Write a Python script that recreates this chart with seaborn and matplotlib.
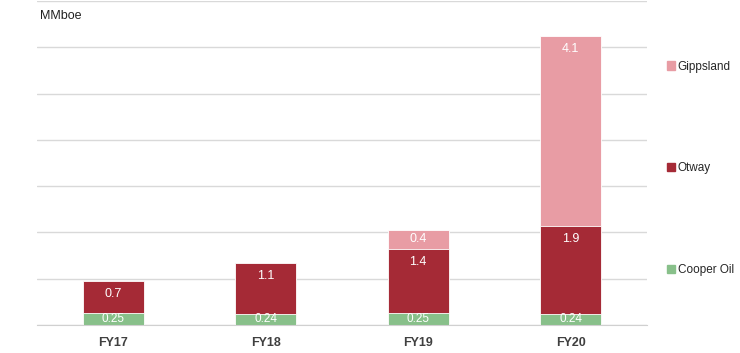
import numpy as np
import matplotlib
matplotlib.use("Agg")
import matplotlib.pyplot as plt
import matplotlib.patches as mpatches
import seaborn as sns

years = ["FY17", "FY18", "FY19", "FY20"]
cooper = [0.25, 0.24, 0.25, 0.24]
otway = [0.7, 1.1, 1.4, 1.9]
gippsland = [0.0, 0.0, 0.4, 4.1]

c_cooper = "#88c08a"
c_otway = "#a52a36"
c_gipps = "#e89ca4"

sns.set_style("white")
plt.rcParams["font.family"] = ["Liberation Sans", "DejaVu Sans"]

fig = plt.figure(figsize=(7.4, 3.53), dpi=100)
ax = fig.add_axes([37 / 740, 28 / 353, 610 / 740, 324 / 353])

low = np.array(cooper)
mid = low + np.array(otway)
top = mid + np.array(gippsland)

# stack by drawing cumulative totals back to front
for vals, col in [(top, c_gipps), (mid, c_otway), (low, c_cooper)]:
    sns.barplot(x=years, y=vals, color=col, width=0.4, ax=ax,
                edgecolor="white", linewidth=0.6, saturation=1)

for i in range(len(years)):
    ax.text(i, cooper[i] / 2, f"{cooper[i]:.2f}", ha="center", va="center",
            color="white", fontsize=8.5)
    ax.text(i, mid[i] - 0.28, f"{otway[i]:.1f}", ha="center", va="center",
            color="white", fontsize=9)
    if gippsland[i] > 0:
        ax.text(i, top[i] - min(0.27, gippsland[i] / 2), f"{gippsland[i]:.1f}",
                ha="center", va="center", color="white", fontsize=9)

ax.set_ylim(0, 7)
ax.set_xlim(-0.5, 3.5)
ax.set_yticks(range(0, 8))
ax.yaxis.grid(True, color="#d9d9d9", linewidth=1)
ax.set_axisbelow(True)
ax.tick_params(axis="y", left=False, labelleft=False)
for s in ["left", "right", "top"]:
    ax.spines[s].set_visible(False)
ax.spines["bottom"].set_color("#d0d0d0")
ax.set_xticks([-0.5, 0.5, 1.5, 2.5, 3.5], minor=True)
ax.tick_params(axis="x", which="minor", length=5, color="#d0d0d0")
ax.tick_params(axis="x", which="major", length=0, pad=9)
for lab in ax.get_xticklabels():
    lab.set_fontweight("bold")
    lab.set_color("#404040")
    lab.set_fontsize(9)
ax.set_xlabel("")

fig.text(40 / 740, 1 - 16 / 353, "MMboe", fontsize=9, va="center", color="#222222")

handles = [mpatches.Patch(color=c_gipps, label="Gippsland"),
           mpatches.Patch(color=c_otway, label="Otway"),
           mpatches.Patch(color=c_cooper, label="Cooper Oil")]
fig.legend(handles=handles, loc="upper left", bbox_to_anchor=(656 / 740, 1 - 50 / 353),
           frameon=False, fontsize=8.5, handlelength=0.7, handleheight=0.7,
           handletextpad=0.25, labelspacing=7.6)

fig.savefig("out.png", dpi=100)
